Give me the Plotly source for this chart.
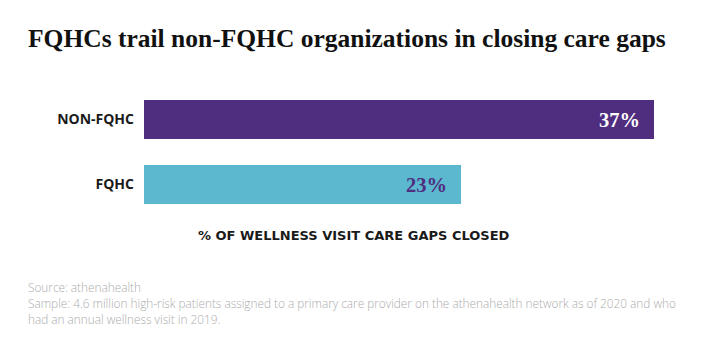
import plotly.graph_objects as go

categories = ["NON-FQHC", "FQHC"]
values = [37, 23]
value_labels = ["37%", "23%"]
bar_colors = ["#4f2d7f", "#5bb8cf"]
label_colors = ["#ffffff", "#4f2d7f"]

title_text = "FQHCs trail non-FQHC organizations in closing care gaps"
axis_title = "% OF WELLNESS VISIT CARE GAPS CLOSED"
footer_lines = [
    "Source: athenahealth",
    "Sample: 4.6 million high-risk patients assigned to a primary care provider on the athenahealth network as of 2020 and who",
    "had an annual wellness visit in 2019.",
]

W, H = 712, 352
L, R, T, B = 144, 58, 87, 135
plot_h = H - T - B
plot_w = W - L - R

def py(pix):
    return (H - B - pix) / plot_h

def px(pix):
    return (pix - L) / plot_w

fig = go.Figure()
fig.add_trace(go.Bar(
    x=values, y=categories, orientation="h",
    marker=dict(color=bar_colors, line=dict(width=0)),
    width=0.6, hoverinfo="skip",
))

for c, v, t, col in zip(categories, values, value_labels, label_colors):
    fig.add_annotation(x=v, y=c, xref="x", yref="y", text=t, showarrow=False,
                       xanchor="right", yanchor="middle", xshift=-12,
                       font=dict(family="Liberation Serif", size=20.5, color=col, weight="bold"))

fig.add_annotation(x=px(354), y=py(235), xref="paper", yref="paper", xanchor="center", yanchor="middle",
                   text=axis_title, showarrow=False,
                   font=dict(family="DejaVu Sans", size=13, color="#1a1a1a", weight="bold"))

for i, line in enumerate(footer_lines):
    fig.add_annotation(x=px(28), y=py(287 + 16 * i), xref="paper", yref="paper",
                       xanchor="left", yanchor="middle", xshift=-2,
                       text=line, showarrow=False, align="left",
                       font=dict(family="Open Sans", size=11.8, color="#acacac", weight=300))

fig.update_layout(
    width=W, height=H,
    margin=dict(l=L, r=R, t=T, b=B),
    paper_bgcolor="white", plot_bgcolor="white",
    showlegend=False,
    title=dict(text=title_text, x=28 / W, xanchor="left", y=1 - 38 / H, yanchor="middle",
               font=dict(family="Liberation Serif", size=25.5, color="#111111", weight="bold")),
    xaxis=dict(visible=False, range=[0, 37], fixedrange=True),
    yaxis=dict(categoryorder="array", categoryarray=categories[::-1], range=[-0.5, 1.5],
               showgrid=False, showline=False, zeroline=False, ticks="", ticklabelstandoff=9,
               tickfont=dict(family="Open Sans", size=14, color="#1a1a1a", weight="bold")),
)

fig.write_html("out.html")
